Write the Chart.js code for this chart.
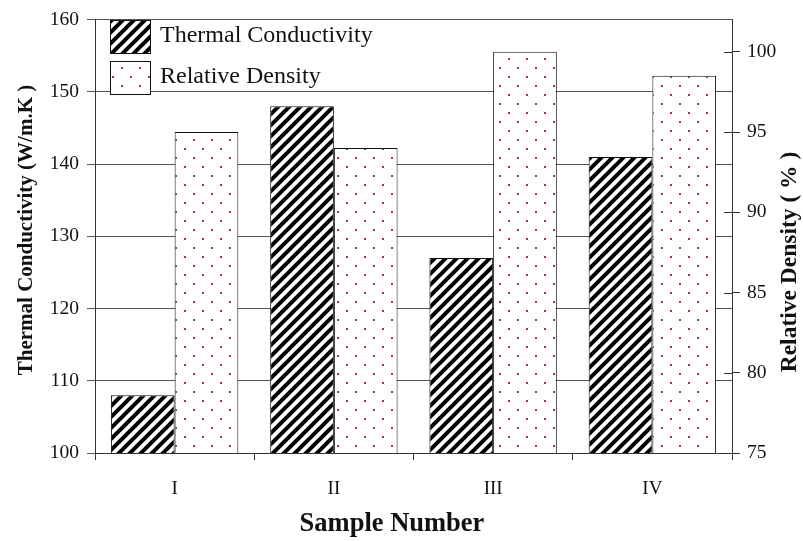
<!DOCTYPE html>
<html>
<head>
<meta charset="utf-8">
<script src="https://cdn.jsdelivr.net/npm/chart.js@4"></script>
<style>
    body { margin: 0; background: #fff; }
    canvas { display: block; }
</style>
</head>
<body>
<canvas id="chart" width="803" height="541"></canvas>
<script>
const samples = ['I', 'II', 'III', 'IV'];
const thermalConductivity = [108, 148, 127, 141];
const relativeDensity = [95, 94, 100, 98.5];
const conductivityTicks = [100, 110, 120, 130, 140, 150, 160];
const densityTicks = [75, 80, 85, 90, 95, 100];

const serif = '"Liberation Serif", "Times New Roman", serif';

document.addEventListener('DOMContentLoaded', function () {
    const ctx = document.getElementById('chart').getContext('2d');

    // diagonal black stripes
    const hatchTile = document.createElement('canvas');
    hatchTile.width = 11; hatchTile.height = 11;
    const h = hatchTile.getContext('2d');
    h.fillStyle = '#fff';
    h.fillRect(0, 0, 11, 11);
    h.strokeStyle = '#000';
    h.lineWidth = 4;
    [-11, 0, 11].forEach(function (o) {
        h.beginPath();
        h.moveTo(o - 2, 13);
        h.lineTo(o + 13, -2);
        h.stroke();
    });
    const hatch = ctx.createPattern(hatchTile, 'repeat');

    // sparse red dots
    const dotTile = document.createElement('canvas');
    dotTile.width = 18; dotTile.height = 18;
    const d = dotTile.getContext('2d');
    d.fillStyle = '#fff';
    d.fillRect(0, 0, 18, 18);
    d.fillStyle = '#9a3558';
    d.fillRect(4, 4, 2, 2);
    d.fillRect(13, 13, 2, 2);
    const dots = ctx.createPattern(dotTile, 'repeat');

    const extras = {
        id: 'extras',
        afterDraw(chart) {
            const c = chart.ctx;
            const area = chart.chartArea;
            const r = chart.scales.y1;
            c.save();
            // right axis ticks also poke inside
            c.strokeStyle = '#333';
            c.lineWidth = 1;
            r.ticks.forEach(function (t) {
                const y = Math.round(r.getPixelForValue(t.value)) + 0.5;
                c.beginPath();
                c.moveTo(area.right - 8, y);
                c.lineTo(area.right, y);
                c.stroke();
            });

            // legend inside the plot
            const items = [[hatch, 'Thermal Conductivity', 20], [dots, 'Relative Density', 61]];
            c.font = '24px ' + serif;
            c.textBaseline = 'alphabetic';
            c.textAlign = 'left';
            items.forEach(function (it) {
                c.fillStyle = it[0];
                c.fillRect(110, it[2], 40, 33);
                c.strokeStyle = '#111';
                c.strokeRect(110.5, it[2] + 0.5, 40, 33);
                c.fillStyle = '#111';
                c.fillText(it[1], 160, it[2] + 22);
            });

            // axis titles
            c.font = 'bold 21px ' + serif;
            c.textAlign = 'center';
            c.textBaseline = 'middle';
            c.save();
            c.translate(27, 230);
            c.rotate(-Math.PI / 2);
            c.fillText('Thermal Conductivity (W/m.K )', 0, 0);
            c.restore();
            c.font = 'bold 23.5px ' + serif;
            c.save();
            c.translate(790, 262);
            c.rotate(-Math.PI / 2);
            c.fillText('Relative Density ( % )', 0, 0);
            c.restore();
            c.font = 'bold 26.5px ' + serif;
            c.fillText('Sample Number', 392, 524);
            c.restore();
        }
    };

    new Chart(ctx, {
        type: 'bar',
        data: {
            labels: samples,
            datasets: [{
                label: 'Thermal Conductivity',
                data: thermalConductivity,
                yAxisID: 'y',
                backgroundColor: hatch,
                borderColor: '#111',
                borderWidth: 1,
                borderSkipped: false,
                categoryPercentage: 0.8,
                barPercentage: 1
            }, {
                label: 'Relative Density',
                data: relativeDensity,
                yAxisID: 'y1',
                backgroundColor: dots,
                borderColor: '#111',
                borderWidth: 1,
                borderSkipped: false,
                categoryPercentage: 0.8,
                barPercentage: 1
            }]
        },
        options: {
            responsive: false,
            animation: false,
            layout: { padding: { top: 13 } },
            plugins: {
                legend: { display: false },
                tooltip: { enabled: false }
            },
            scales: {
                x: {
                    afterFit: function (s) { s.height = 88; },
                    grid: { drawOnChartArea: false, offset: true, tickLength: 7, color: '#333' },
                    border: { color: '#333' },
                    ticks: { padding: 18, color: '#111', font: { family: serif, size: 19 } }
                },
                y: {
                    position: 'left',
                    min: conductivityTicks[0],
                    max: conductivityTicks[conductivityTicks.length - 1],
                    afterFit: function (s) { s.width = 95; },
                    afterBuildTicks: function (s) { s.ticks = conductivityTicks.map(function (v) { return { value: v }; }); },
                    grid: { color: '#555', tickLength: 8 },
                    border: { color: '#333' },
                    ticks: { padding: 8, color: '#111', font: { family: serif, size: 19.5 } }
                },
                y1: {
                    position: 'right',
                    min: 75,
                    max: 102,
                    afterFit: function (s) { s.width = 71; },
                    afterBuildTicks: function (s) { s.ticks = densityTicks.map(function (v) { return { value: v }; }); },
                    grid: { drawOnChartArea: false, tickLength: 8, color: '#333' },
                    border: { color: '#333' },
                    ticks: { padding: 7, color: '#111', font: { family: serif, size: 19.5 } }
                }
            }
        },
        plugins: [extras]
    });
});
</script>
</body>
</html>
